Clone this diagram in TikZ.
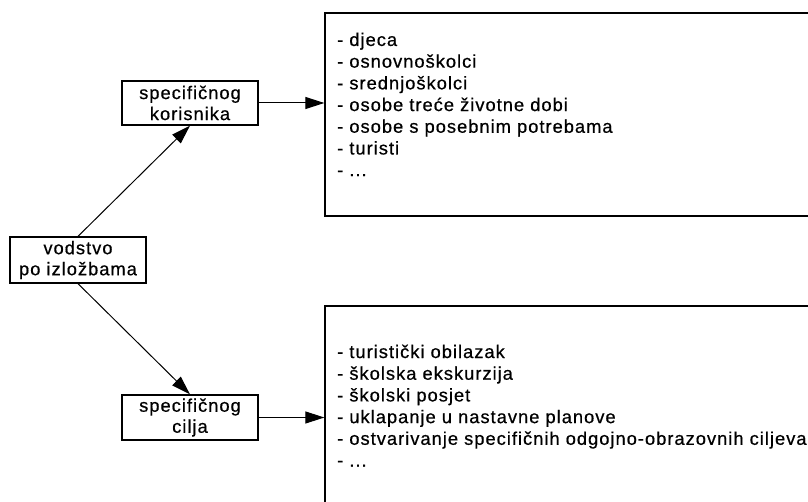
\documentclass[tikz,border=0pt]{standalone}
\usepackage{fontspec}
\setmainfont{Liberation Sans}[LetterSpace=5.5, FakeBold=0.6]
\usetikzlibrary{arrows.meta}
\begin{document}
\begin{tikzpicture}[x=1pt,y=-1pt,
  box/.style={draw=black, line width=1.3pt, rectangle, inner sep=0pt,
    minimum width=136pt, align=center, font=\fontsize{18.3}{21}\selectfont},
  listbox/.style={draw=black, line width=1.3pt, rectangle, inner sep=0pt},
  listtext/.style={anchor=north west, inner sep=0pt, align=left,
    font=\fontsize{18.3}{21.7}\selectfont},
  arr/.style={line width=1pt, -{Triangle[length=19pt,width=12pt]}}]
\path[use as bounding box] (0,0) rectangle (808,502);
\clip (0,0) rectangle (808,502);
\node[box, minimum height=46pt] (root) at (78,260) {vodstvo\\po izložbama};
\node[box, minimum height=44pt] (kor) at (190,103) {specifičnog\\korisnika};
\node[box, minimum height=45pt] (cil) at (190,417.5) {specifičnog\\cilja};
\node[listbox, minimum width=505pt, minimum height=203pt] (users) at (577.5,114.5) {};
\node[listbox, minimum width=505pt, minimum height=240pt] (goals) at (577.5,426) {};
\node[listtext] (userstext) at (337,32.5) {- djeca\\- osnovnoškolci\\- srednjoškolci\\- osobe treće životne dobi\\- osobe s posebnim potrebama\\- turisti\\- ...};
\node[listtext] (goalstext) at (337,344.5) {- turistički obilazak\\- školska ekskurzija\\- školski posjet\\- uklapanje u nastavne planove\\- ostvarivanje specifičnih odgojno-obrazovnih ciljeva\\- ...};
\draw[arr] (root.north) -- (kor.south);
\draw[arr] (root.south) -- (cil.north);
\draw[arr] (kor.east) -- (users.west |- kor.east);
\draw[arr] (cil.east) -- (goals.west |- cil.east);
\end{tikzpicture}
\end{document}
